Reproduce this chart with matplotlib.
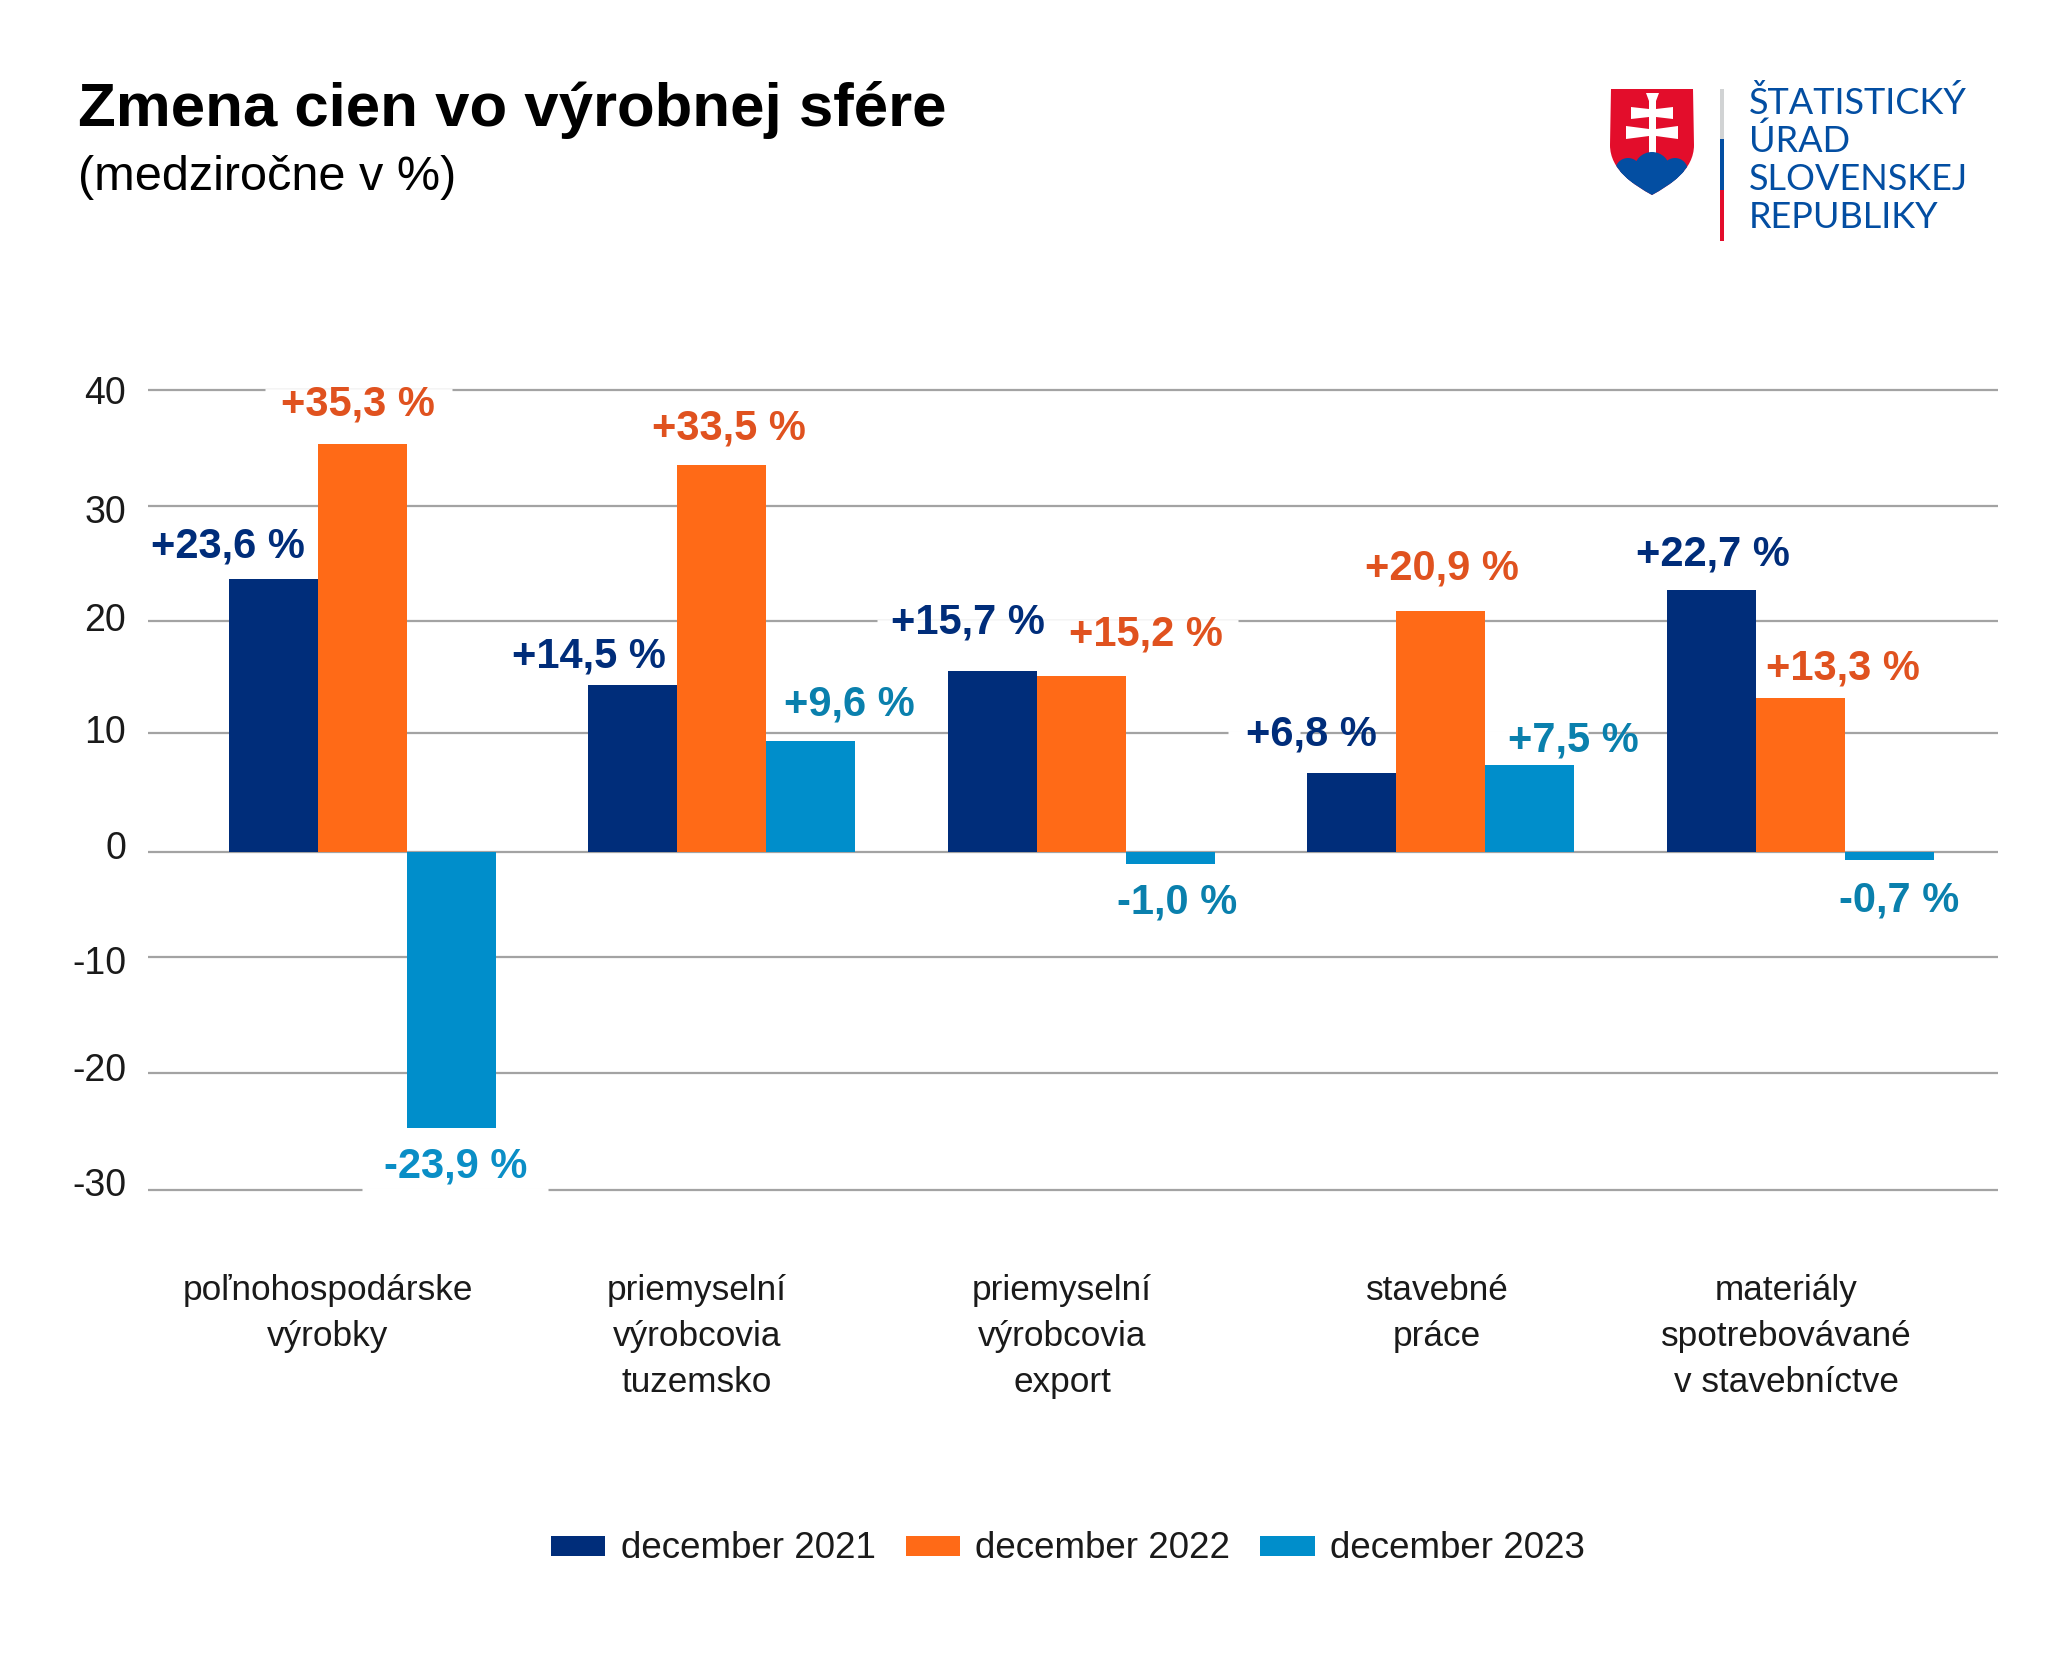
import matplotlib
matplotlib.use("Agg")
import matplotlib.pyplot as plt
from matplotlib.legend_handler import HandlerPatch
from matplotlib.patches import PathPatch, Polygon, Rectangle, Circle, Patch
from matplotlib.path import Path
from matplotlib.transforms import Affine2D

plt.rcParams['font.family'] = ['Liberation Sans', 'DejaVu Sans']

# Data
categories = ["poľnohospodárske\nvýrobky", "priemyselní\nvýrobcovia\ntuzemsko",
              "priemyselní\nvýrobcovia\nexport", "stavebné\npráce",
              "materiály\nspotrebovávané\nv stavebníctve"]
series_names = ["december 2021", "december 2022", "december 2023"]
dec_2021 = [23.6, 14.5, 15.7, 6.8, 22.7]
dec_2022 = [35.3, 33.5, 15.2, 20.9, 13.3]
dec_2023 = [-23.9, 9.6, -1.0, 7.5, -0.7]
tick_labels = ["40", "30", "20", "10", "0", "-10", "-20", "-30"]
# the gridlines in the original are not evenly spaced
grid_values = [40, 30, 20, 10.3, 0, -9.1, -19.1, -29.3]

NAVY = "#002d7a"
ORANGE = "#ff6a17"
CYAN = "#008ecb"
RED_TEXT = "#e0521f"
TEAL_TEXT = "#0a80ad"
DARK = "#1a1a1a"

fig = plt.figure(figsize=(20.48, 16.71), dpi=100)

# Pixel coordinates of the reference image, y going down
px = Affine2D().scale(1, -1).translate(0, 1671)

# Axes box
left, right, top, bottom = 148, 1998, 380, 1200
ax = fig.add_axes([left / 2048, 1 - bottom / 1671, (right - left) / 2048, (bottom - top) / 1671])
zero_y = 852
unit_y = 11.55
ax.set_ylim((zero_y - bottom) / unit_y, (zero_y - top) / unit_y)
group_gap = 359.5
first_center = 362.3
ax.set_xlim((left - first_center) / group_gap, (right - first_center) / group_gap)

# Bars
bar_w = 89 / group_gap
x = list(range(len(categories)))
all_series = [dec_2021, dec_2022, dec_2023]
colors = [NAVY, ORANGE, CYAN]
for i, values in enumerate(all_series):
    ax.bar([p + (i - 1) * bar_w for p in x], values, width=bar_w, color=colors[i], zorder=3)

# Axes styling
for s in ax.spines.values():
    s.set_visible(False)
ax.set_xticks([])
ax.set_yticks(grid_values)
ax.set_yticklabels([])
ax.tick_params(axis='y', length=0)
ax.grid(axis='y', color="#a3a3a3", linewidth=1.6, zorder=1)
ax.set_axisbelow(True)

# Tick labels sit a little off their gridlines in the original
tick_y = [394, 513, 621, 733, 849, 964, 1071, 1186]
for t, ty in zip(tick_labels, tick_y):
    ax.text(126, ty, t, transform=px, ha='right', va='center', fontsize=27, color=DARK, clip_on=False)

# White gaps in the gridlines behind the value labels
gaps = [(265, 452, 390.5), (877, 1238, 622), (1228, 1300, 733), (1458, 1588, 733), (362, 548, 1190)]
for g0, g1, gy in gaps:
    ax.plot([g0, g1], [gy, gy], transform=px, color='white', linewidth=3.5, zorder=2,
            solid_capstyle='butt', clip_on=False)

# Value labels, centres
label_pos = [
    [(228, 546), (589, 657), (968, 623), (1311, 734), (1713, 554)],
    [(358, 405), (729, 428), (1146, 635), (1442, 568), (1843, 668)],
    [(456, 1167), (849, 705), (1177, 903), (1573, 740), (1899, 900)],
]
label_colors = [
    [NAVY] * 5,
    [RED_TEXT] * 5,
    ["#0a8ec6", TEAL_TEXT, TEAL_TEXT, TEAL_TEXT, TEAL_TEXT],
]
for i, values in enumerate(all_series):
    for v, (lx, ly), c in zip(values, label_pos[i], label_colors[i]):
        txt = f"{v:+.1f} %".replace(".", ",")
        ax.text(lx, ly, txt, transform=px, ha='center', va='center', fontsize=30,
                fontweight='bold', color=c, zorder=4, clip_on=False)

# Category labels
cat_centers = [328, 697, 1062, 1437, 1786]
for c, cx in zip(categories, cat_centers):
    ax.text(cx, 1274, c, transform=px, ha='center', va='top', fontsize=25.3, color=DARK,
            linespacing=1.5, clip_on=False)

# Title
ax.text(78, 110, "Zmena cien vo výrobnej sfére", transform=px, ha='left', va='center',
        fontsize=44.5, fontweight='bold', color='black', clip_on=False)
ax.text(78, 177, "(medziročne v %)", transform=px, ha='left', va='center',
        fontsize=35, color='black', clip_on=False)

# Legend
handles = [Patch(facecolor=c, edgecolor='none') for c in colors]
ax.legend(handles, series_names, loc='center', bbox_to_anchor=(1068, 1548), bbox_transform=px,
          ncol=3, frameon=False, fontsize=26.5, labelcolor=DARK, handlelength=1.47, handleheight=0.34,
          handletextpad=0.42, columnspacing=0.82, borderpad=0, borderaxespad=0,
          handler_map={Patch: HandlerPatch(ypad=-0.085)})

# Logo
shield_path = Path(
    [(1611, 89), (1693, 89), (1694, 145), (1694, 170), (1670, 185), (1652, 195),
     (1634, 185), (1610, 170), (1610, 145), (1611, 89)],
    [Path.MOVETO, Path.LINETO, Path.LINETO, Path.CURVE4, Path.CURVE4, Path.CURVE4,
     Path.CURVE4, Path.CURVE4, Path.CURVE4, Path.LINETO])
shield = PathPatch(shield_path, facecolor="#e30d2b", edgecolor='none', transform=px, clip_on=False)
ax.add_patch(shield)
logo_blue = "#034ea2"
# double cross with slightly flared ends
cross = [(1646, 93), (1659, 93), (1656, 101), (1656, 109), (1673, 107), (1673, 119), (1656, 117),
         (1656, 129), (1678, 126), (1678, 139), (1656, 136), (1656, 155), (1649, 155), (1649, 136),
         (1626, 139), (1626, 126), (1649, 129), (1649, 117), (1631, 119), (1631, 107), (1649, 109),
         (1649, 101)]
ax.add_patch(Polygon(cross, closed=True, facecolor='white', edgecolor='none', transform=px, clip_on=False))
hills = [Circle((1628, 171), 13), Circle((1652, 170), 18), Circle((1675, 171), 13),
         Rectangle((1605, 171), 95, 30)]
for h in hills:
    h.set(facecolor=logo_blue, edgecolor='none', transform=px)
    h.set_clip_path(shield)
    ax.add_patch(h)
    h.set_clip_box(None)

for (r_y, r_h, c) in [(89, 50, "#d1d3d4"), (139, 51, logo_blue), (190, 51, "#e30d2b")]:
    ax.add_patch(Rectangle((1720, r_y), 4, r_h, facecolor=c, edgecolor='none',
                           transform=px, clip_on=False))

logo_lines = ["ŠTATISTICKÝ", "ÚRAD", "SLOVENSKEJ", "REPUBLIKY"]
for line, base in zip(logo_lines, [114, 152, 190, 228]):
    ax.text(1749, base, line, transform=px, ha='left', va='baseline', fontsize=26,
            family='Lato', color=logo_blue, clip_on=False)

fig.savefig("out.png", dpi=100)
